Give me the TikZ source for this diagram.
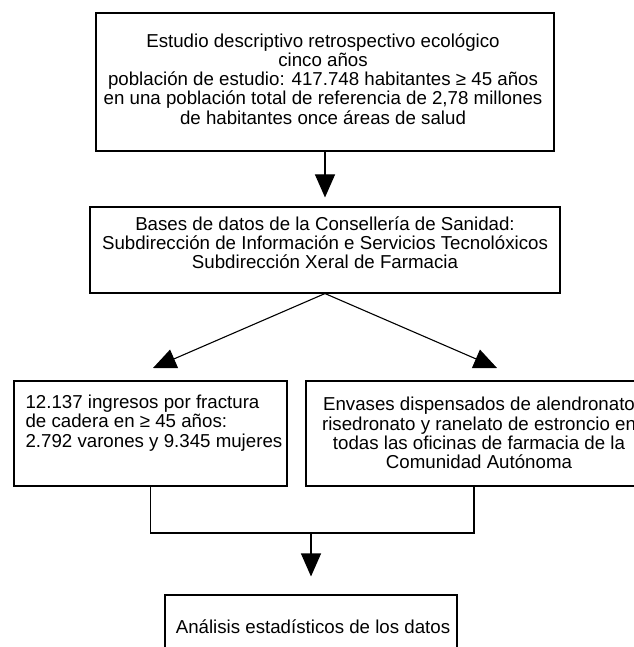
\documentclass[tikz,border=0pt]{standalone}
\usepackage{fontspec}
\setmainfont{Liberation Sans}
\usetikzlibrary{arrows.meta}
\tikzset{
  box/.style={draw, inner sep=0pt},
  lbl/.style={inner sep=0pt, align=center, font=\fontsize{18.7}{19.2}\selectfont},
}
\begin{document}
\begin{tikzpicture}[x=1pt,y=-1pt,>={Triangle[length=23pt,width=20pt]},line width=1.1pt]
  \useasboundingbox (0,0) rectangle (633,647);
  % boxes
  \node[box,minimum width=458pt,minimum height=138pt] (study) at (325,82) {};
  \node[box,minimum width=470pt,minimum height=86pt] (bases) at (325,250) {};
  \node[box,minimum width=273pt,minimum height=105pt] (fract) at (150.5,433.5) {};
  \node[box,minimum width=350pt,minimum height=105pt] (disp) at (481,433.5) {};
  \node[box,minimum width=292pt,minimum height=65pt] (anal) at (311,627.5) {};
  % texts
  \node[lbl] (studytxt) at (323,79) {Estudio descriptivo retrospectivo ecológico\\
    cinco años\\
    población de estudio: 417.748 habitantes ≥ 45 años\\
    en una población total de referencia de 2,78 millones\\
    de habitantes once áreas de salud};
  \node[lbl] (basestxt) at (325,243) {Bases de datos de la Consellería de Sanidad:\\
    Subdirección de Información e Servicios Tecnolóxicos\\
    Subdirección Xeral de Farmacia};
  \node[lbl,align=left,anchor=west] (fracttxt) at (25,423) {12.137 ingresos por fractura\\
    de cadera en ≥ 45 años:\\
    2.792 varones y 9.345 mujeres};
  \node[lbl] (disptxt) at (479,433) {Envases dispensados de alendronato\\
    risedronato y ranelato de estroncio en\\
    todas las oficinas de farmacia de la\\
    Comunidad Autónoma};
  \node[lbl] (analtxt) at (313,627) {Análisis estadísticos de los datos};
  % connectors
  \coordinate (tipl) at (153,368);
  \coordinate (tipr) at (497,368);
  \coordinate (join) at (311,533);
  \draw[->,shorten >=9pt] (study) -- (bases);
  \draw[->] (bases.south) -- (tipl);
  \draw[->] (bases.south) -- (tipr);
  \draw (fract.south) |- (join) -| (disp.south -| 474,0);
  \draw[->,shorten >=18pt] (join) -- (anal);
\end{tikzpicture}
\end{document}
